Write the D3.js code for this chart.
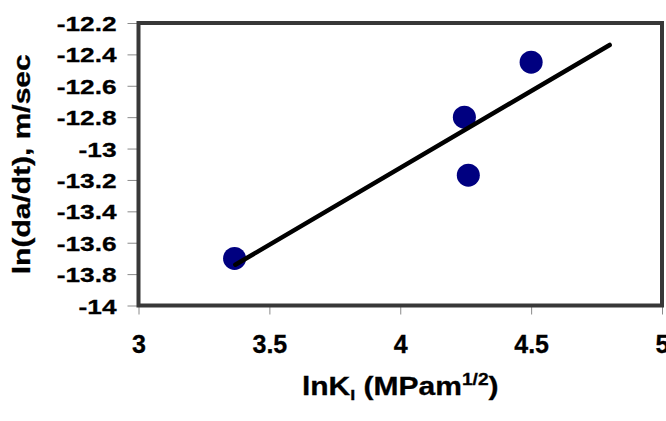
<!DOCTYPE html>
<html>
<head>
<meta charset="utf-8">
<script src="https://cdn.jsdelivr.net/npm/d3@7"></script>
<style>
    body { margin: 0; background: #fff; }
    svg { display: block; font-family: "Liberation Sans", Arial, sans-serif; font-weight: bold; }
</style>
</head>
<body>
<div id="chart"></div>
<script>
// measured points
const lnK = [3.367, 4.245, 4.26, 4.5];
const lnRate = [-13.7, -12.8, -13.17, -12.45];

// trendline ends
const trendX = [3.37, 4.8];
const trendY = [-13.74, -12.34];

const xTicks = [3, 3.5, 4, 4.5, 5];
const yTicks = [-12.2, -12.4, -12.6, -12.8, -13, -13.2, -13.4, -13.6, -13.8, -14];

const cfg = {
    width: 666,
    height: 421,
    left: 138.5,
    right: 662,
    top: 23,
    bottom: 305.5
};

const svg = d3.select("#chart")
    .append("svg")
    .attr("width", cfg.width)
    .attr("height", cfg.height);

const x = d3.scaleLinear().domain([3, 5]).range([cfg.left, cfg.right]);
const y = d3.scaleLinear().domain([-14, -12.2]).range([cfg.bottom, cfg.top]);

// y axis
const yAxis = svg.append("g")
    .attr("transform", "translate(" + cfg.left + ",0)")
    .call(d3.axisLeft(y).tickValues(yTicks).tickSize(11).tickFormat(d => d3.format("")(d).replace("−", "-")));
yAxis.select(".domain").remove();
yAxis.selectAll(".tick line").attr("stroke", "#8a8a8a");
yAxis.selectAll(".tick text")
    .attr("x", -22 / 1.25)
    .attr("dy", "0.36em")
    .attr("transform", "scale(1.25,1)")
    .attr("font-size", 21)
    .attr("font-family", "Liberation Sans, Arial, sans-serif")
    .attr("font-weight", "bold")
    .attr("stroke", "#000")
    .attr("stroke-width", 0.3)
    .attr("fill", "#000");

// x axis
const xAxis = svg.append("g")
    .attr("transform", "translate(0," + cfg.bottom + ")")
    .call(d3.axisBottom(x).tickValues(xTicks).tickSize(9).tickFormat(d3.format("")));
xAxis.select(".domain").remove();
xAxis.selectAll(".tick line").attr("stroke", "#8a8a8a");
xAxis.selectAll(".tick text")
    .attr("y", 47.5)
    .attr("dy", 0)
    .attr("font-size", 25)
    .attr("font-family", "Liberation Sans, Arial, sans-serif")
    .attr("font-weight", "bold")
    .attr("stroke", "#000")
    .attr("stroke-width", 0.3)
    .attr("fill", "#000");

// plot frame
svg.append("rect")
    .attr("x", cfg.left)
    .attr("y", cfg.top)
    .attr("width", cfg.right - cfg.left)
    .attr("height", cfg.bottom - cfg.top)
    .attr("fill", "none")
    .attr("stroke", "#383838")
    .attr("stroke-width", 4);

// points
svg.append("g")
    .selectAll("circle")
    .data(lnK)
    .enter()
    .append("circle")
    .attr("cx", d => x(d))
    .attr("cy", (d, i) => y(lnRate[i]))
    .attr("r", 11.5)
    .attr("fill", "#000080");

// trendline
svg.append("line")
    .attr("x1", x(trendX[0]))
    .attr("y1", y(trendY[0]))
    .attr("x2", x(trendX[1]))
    .attr("y2", y(trendY[1]))
    .attr("stroke", "#000")
    .attr("stroke-width", 4.5)
    .attr("stroke-linecap", "round");

// x title
const xTitle = svg.append("g")
    .attr("transform", "translate(" + ((cfg.left + cfg.right) / 2) + ",395) scale(1.2,1)")
    .append("text")
    .attr("text-anchor", "middle")
    .attr("font-size", 25)
    .attr("stroke", "#000")
    .attr("stroke-width", 0.3)
    .attr("fill", "#000");
xTitle.append("tspan").text("lnK");
xTitle.append("tspan").text("I").attr("font-size", 15).attr("dy", 5);
xTitle.append("tspan").text(" (MPam").attr("dy", -5);
xTitle.append("tspan").text("1/2").attr("font-size", 16).attr("dy", -10);
xTitle.append("tspan").text(")").attr("dy", 10);

// y title
svg.append("g")
    .attr("transform", "translate(29.5," + ((cfg.top + cfg.bottom) / 2) + ") rotate(-90) scale(1.25,1)")
    .append("text")
    .attr("text-anchor", "middle")
    .attr("font-size", 24)
    .attr("stroke", "#000")
    .attr("stroke-width", 0.3)
    .attr("fill", "#000")
    .text("ln(da/dt), m/sec");
</script>
</body>
</html>
